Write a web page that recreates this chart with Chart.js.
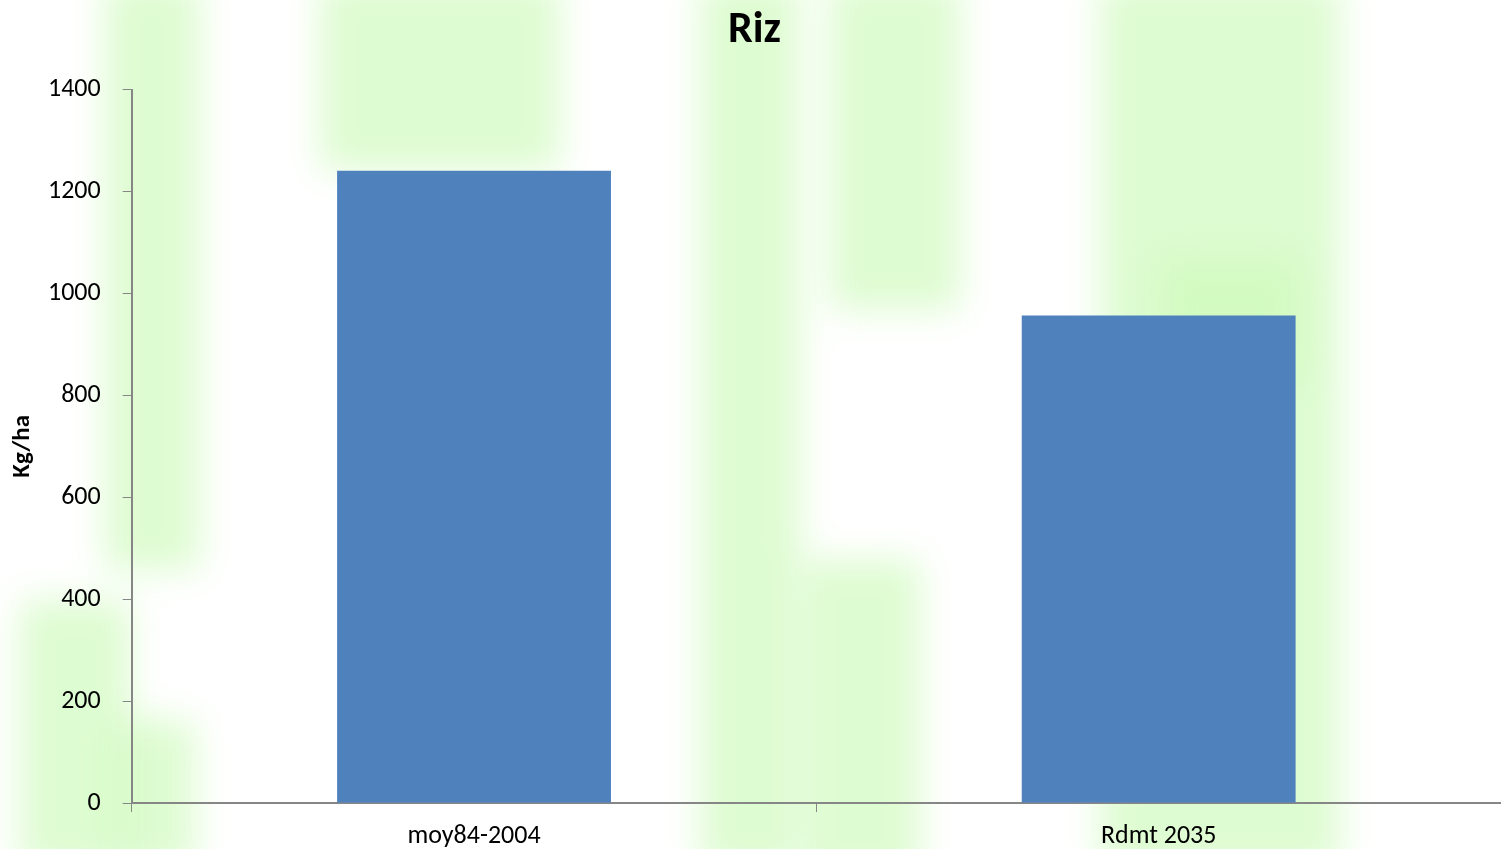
<!DOCTYPE html>
<html>
<head>
<meta charset="utf-8">
<script src="https://cdn.jsdelivr.net/npm/chart.js@4"></script>
<style>
  html, body { margin: 0; padding: 0; background: #fff; }
  #wrap { width: 1501px; height: 849px; }
</style>
</head>
<body>
<div id="wrap"><canvas id="riz-chart" width="1501" height="849"></canvas></div>
<script>
const categories = ["moy84-2004", "Rdmt 2035"];
const rendement = [1241, 957];
const y_ticks = [0, 200, 400, 600, 800, 1000, 1200, 1400];

const font_name = "Carlito, Calibri, 'Liberation Sans', sans-serif";

// faded green background picture, drawn as blurred strips
const bg_strips = [
    [105, -20, 95, 590], [110, 720, 85, 150], [320, -20, 240, 190],
    [700, -20, 100, 890], [830, -20, 130, 330], [800, 560, 120, 320],
    [1100, -20, 240, 890], [20, 600, 110, 270], [1160, 260, 140, 120]
];

const background_plugin = {
    id: "background",
    beforeDraw(chart) {
        const ctx = chart.ctx;
        ctx.save();
        ctx.fillStyle = "#ffffff";
        ctx.fillRect(0, 0, chart.width, chart.height);
        ctx.filter = "blur(18px)";
        ctx.fillStyle = "rgba(205, 250, 185, 0.65)";
        for (const s of bg_strips) {
            ctx.fillRect(s[0], s[1], s[2], s[3]);
        }
        ctx.restore();
    }
};

const my_chart = new Chart("riz-chart", {
    type: "bar",
    data: {
        labels: categories,
        datasets: [{
            data: rendement,
            backgroundColor: "#4f81bd",
            barPercentage: 0.4,
            categoryPercentage: 1.0
        }]
    },
    options: {
        responsive: false,
        animation: false,
        layout: { padding: { left: 8, right: 0, top: 0, bottom: -11 } },
        plugins: {
            legend: { display: false },
            tooltip: { enabled: false },
            title: {
                display: true,
                text: "Riz",
                color: "#000",
                font: { family: font_name, size: 44, weight: "bold" },
                padding: { top: 5, bottom: 32 }
            }
        },
        scales: {
            x: {
                grid: { offset: true, drawOnChartArea: false, drawTicks: true, tickLength: 9, color: "#868686" },
                border: { color: "#868686", width: 2 },
                ticks: { color: "#000", font: { family: font_name, size: 26, lineHeight: 1.0 }, padding: 11, maxRotation: 0 }
            },
            y: {
                min: 0,
                max: 1400,
                afterBuildTicks: (axis) => { axis.ticks = y_ticks.map(v => ({ value: v })); },
                grid: { drawOnChartArea: false, drawTicks: true, tickLength: 9, color: "#868686" },
                border: { color: "#868686", width: 2 },
                ticks: {
                    color: "#000",
                    font: { family: font_name, size: 26 },
                    padding: 22,
                    callback: (v) => String(v)
                },
                title: {
                    display: true,
                    text: "Kg/ha",
                    color: "#000",
                    font: { family: font_name, size: 25, weight: "bold" },
                    padding: { top: 0, bottom: -12 }
                }
            }
        }
    },
    plugins: [background_plugin]
});
</script>
</body>
</html>
